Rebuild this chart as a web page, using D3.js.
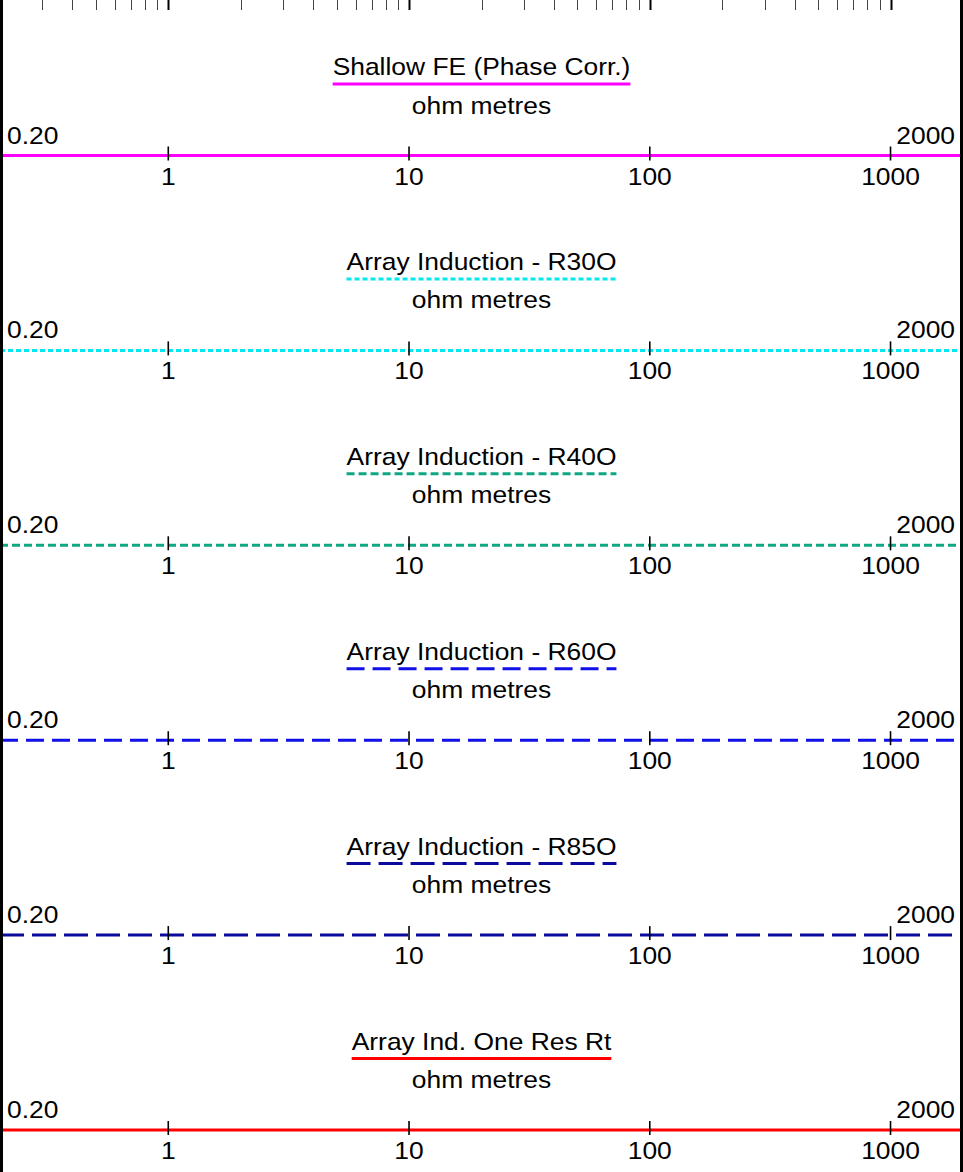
<!DOCTYPE html>
<html>
<meta charset='utf-8'>
<style>
  body{ margin: 0; background: #fff; }
  svg{ display: block; }
  text{ font-family: 'Liberation Sans', Arial, sans-serif; font-size: 24px; fill: #000; }
</style>
<body>
<svg id='hdr' width='963' height='1172'></svg>
<script src='https://cdn.jsdelivr.net/npm/d3@7'></script>
<script>
  // curve headers, top to bottom
  const curveNames = ['Shallow FE (Phase Corr.)', 'Array Induction - R30O', 'Array Induction - R40O',
                      'Array Induction - R60O', 'Array Induction - R85O', 'Array Ind. One Res Rt']
  const curveUnits = ['ohm metres', 'ohm metres', 'ohm metres', 'ohm metres', 'ohm metres', 'ohm metres']
  const curveColors = ['#ff00ff', '#00e8f0', '#10a884', '#1010e8', '#0a0a9c', '#ff0000']
  const curveDash = ['none', '5,3', '8,4', '18,8', '24,8', 'none']
  const scaleLeft = [0.2, 0.2, 0.2, 0.2, 0.2, 0.2]
  const scaleRight = [2000, 2000, 2000, 2000, 2000, 2000]
  const decadeTicks = [1, 10, 100, 1000]

  const W = 963, H = 1172
  const SX = 1.1 // the header font is drawn a bit wide
  const svg = d3.select('#hdr')

  const x = d3.scaleLog().domain([0.2, 2000]).range([0, W])
  const rowY = d3.scaleLinear().domain([0, curveNames.length - 1]).range([155.5, 1130])

  // wide text: placed with a translate, then stretched horizontally
  const wideText = (sel, tx, ty, anchor) => sel.append('text')
    .attr('transform', (d, i) => `translate(${typeof tx === 'function' ? tx(d, i) : tx},${ty}) scale(${SX},1)`)
    .attr('text-anchor', anchor)

  // grid ticks of the track above, cut at the top
  const minorVals = []
  d3.range(-1, 4).forEach(e => {
    d3.range(1, 10).forEach(m => {
      const v = m * Math.pow(10, e)
      if (v > 0.2 && v < 2000) minorVals.push(v)
    })
  })
  svg.append('g').selectAll('line').data(minorVals).join('line')
    .attr('x1', d => Math.round(x(d)) + 0.5).attr('x2', d => Math.round(x(d)) + 0.5)
    .attr('y1', 0).attr('y2', 10)
    .attr('stroke', d => decadeTicks.includes(d) ? '#000' : '#444')
    .attr('stroke-width', d => decadeTicks.includes(d) ? 2 : 1)

  const rows = svg.append('g').selectAll('g').data(curveNames).join('g')
    .attr('transform', (d, i) => `translate(0,${rowY(i)})`)

  // curve line
  rows.append('line')
    .attr('x1', 0).attr('x2', W).attr('y1', 0).attr('y2', 0)
    .attr('stroke', (d, i) => curveColors[i])
    .attr('stroke-width', 3)
    .attr('stroke-dasharray', (d, i) => curveDash[i])

  // decade ticks and labels
  rows.each(function () {
    const g = d3.select(this)
    g.selectAll('.tk').data(decadeTicks).join('line').attr('class', 'tk')
      .attr('x1', d => x(d)).attr('x2', d => x(d))
      .attr('y1', -9).attr('y2', 5)
      .attr('stroke', '#000').attr('stroke-width', 1.6)
    g.selectAll('.tl').data(decadeTicks).join('g').attr('class', 'tl')
      .call(s => wideText(s, d => x(d), 29, 'middle').text(d => d))
  })

  wideText(rows, 7, -12, 'start').text((d, i) => scaleLeft[i].toFixed(2))
  wideText(rows, 955, -12, 'end').text((d, i) => scaleRight[i])
  wideText(rows, W / 2, -42, 'middle').text((d, i) => curveUnits[i])
  const titles = wideText(rows, W / 2, -80.5, 'middle').text(d => d)

  // underline in the curve's style, as wide as the title
  titles.each(function (d, i) {
    const len = this.getComputedTextLength() * SX
    d3.select(this.parentNode).append('line')
      .attr('x1', W / 2 - len / 2).attr('x2', W / 2 + len / 2)
      .attr('y1', -71.5).attr('y2', -71.5)
      .attr('stroke', curveColors[i])
      .attr('stroke-width', 3)
      .attr('stroke-dasharray', curveDash[i])
  })

  // track borders
  svg.append('rect').attr('x', 0).attr('y', 0).attr('width', 3).attr('height', H).attr('fill', '#000')
  svg.append('rect').attr('x', W - 3).attr('y', 0).attr('width', 3).attr('height', H).attr('fill', '#000')
</script>
</body>
</html>
